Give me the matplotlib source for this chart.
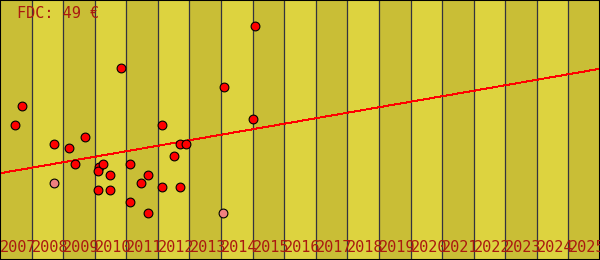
import numpy as np
import matplotlib
matplotlib.use("Agg")
import matplotlib.pyplot as plt

# years shown as columns
years = list(range(2007, 2026))

# sales: decimal year, value (arbitrary units)
sale_x = [2007.48, 2007.71, 2008.72, 2009.19, 2009.38, 2009.70, 2010.12, 2010.11,
          2010.27, 2010.49, 2010.11, 2010.49, 2010.84, 2011.13, 2011.13, 2011.47,
          2011.70, 2011.70, 2012.14, 2012.14, 2012.52, 2012.71, 2012.90, 2012.71,
          2014.10, 2015.02, 2015.08]
sale_y = [135, 154, 116, 112, 96, 123, 93, 89,
          96, 85, 70, 70, 192, 96, 58, 77,
          85, 47, 135, 73, 104, 116, 116, 73,
          173, 141, 234]

# outliers (pink, not used in the trend)
out_x = [2008.72, 2014.07]
out_y = [77, 47]

label = "FDC: 49 €"

dark = "#c9be36"
light = "#ddd33f"
txt_col = "#aa1a10"

fig = plt.figure(figsize=(6, 2.6), dpi=100)
ax = fig.add_axes([0, 0, 1, 1])
ax.set_xlim(years[0], years[-1] + 1)
ax.set_ylim(0, 260)

for i, yr in enumerate(years):
    ax.axvspan(yr, yr + 1, color=dark if i % 2 == 0 else light, lw=0, zorder=0)
    if i > 0:
        ax.axvline(yr, color="#33333f", lw=0.9, zorder=1)
    ax.text(yr, 8, str(yr), family="DejaVu Sans Mono", fontsize=11,
            color=txt_col, ha="left", va="baseline", zorder=5)

# trend from the normal sales only
k, b = np.polyfit(sale_x, sale_y, 1)
xs = np.array([years[0], years[-1] + 1])
ax.plot(xs, k * xs + b, color="#ff0000", lw=0.7, antialiased=False, zorder=2)

ax.scatter(sale_x, sale_y, s=40, c="#ff0000", edgecolors="black", linewidths=0.8, zorder=3)
ax.scatter(out_x, out_y, s=40, c="#f08080", edgecolors="black", linewidths=0.8, zorder=3)

ax.text(0.028, 242 / 260, label, transform=ax.transAxes, family="DejaVu Sans Mono",
        fontsize=11, color=txt_col, ha="left", va="baseline", zorder=5)

ax.set_xticks([])
ax.set_yticks([])
for s in ax.spines.values():
    s.set_color("black")
    s.set_linewidth(1.5)

fig.savefig("out.png", dpi=100)
